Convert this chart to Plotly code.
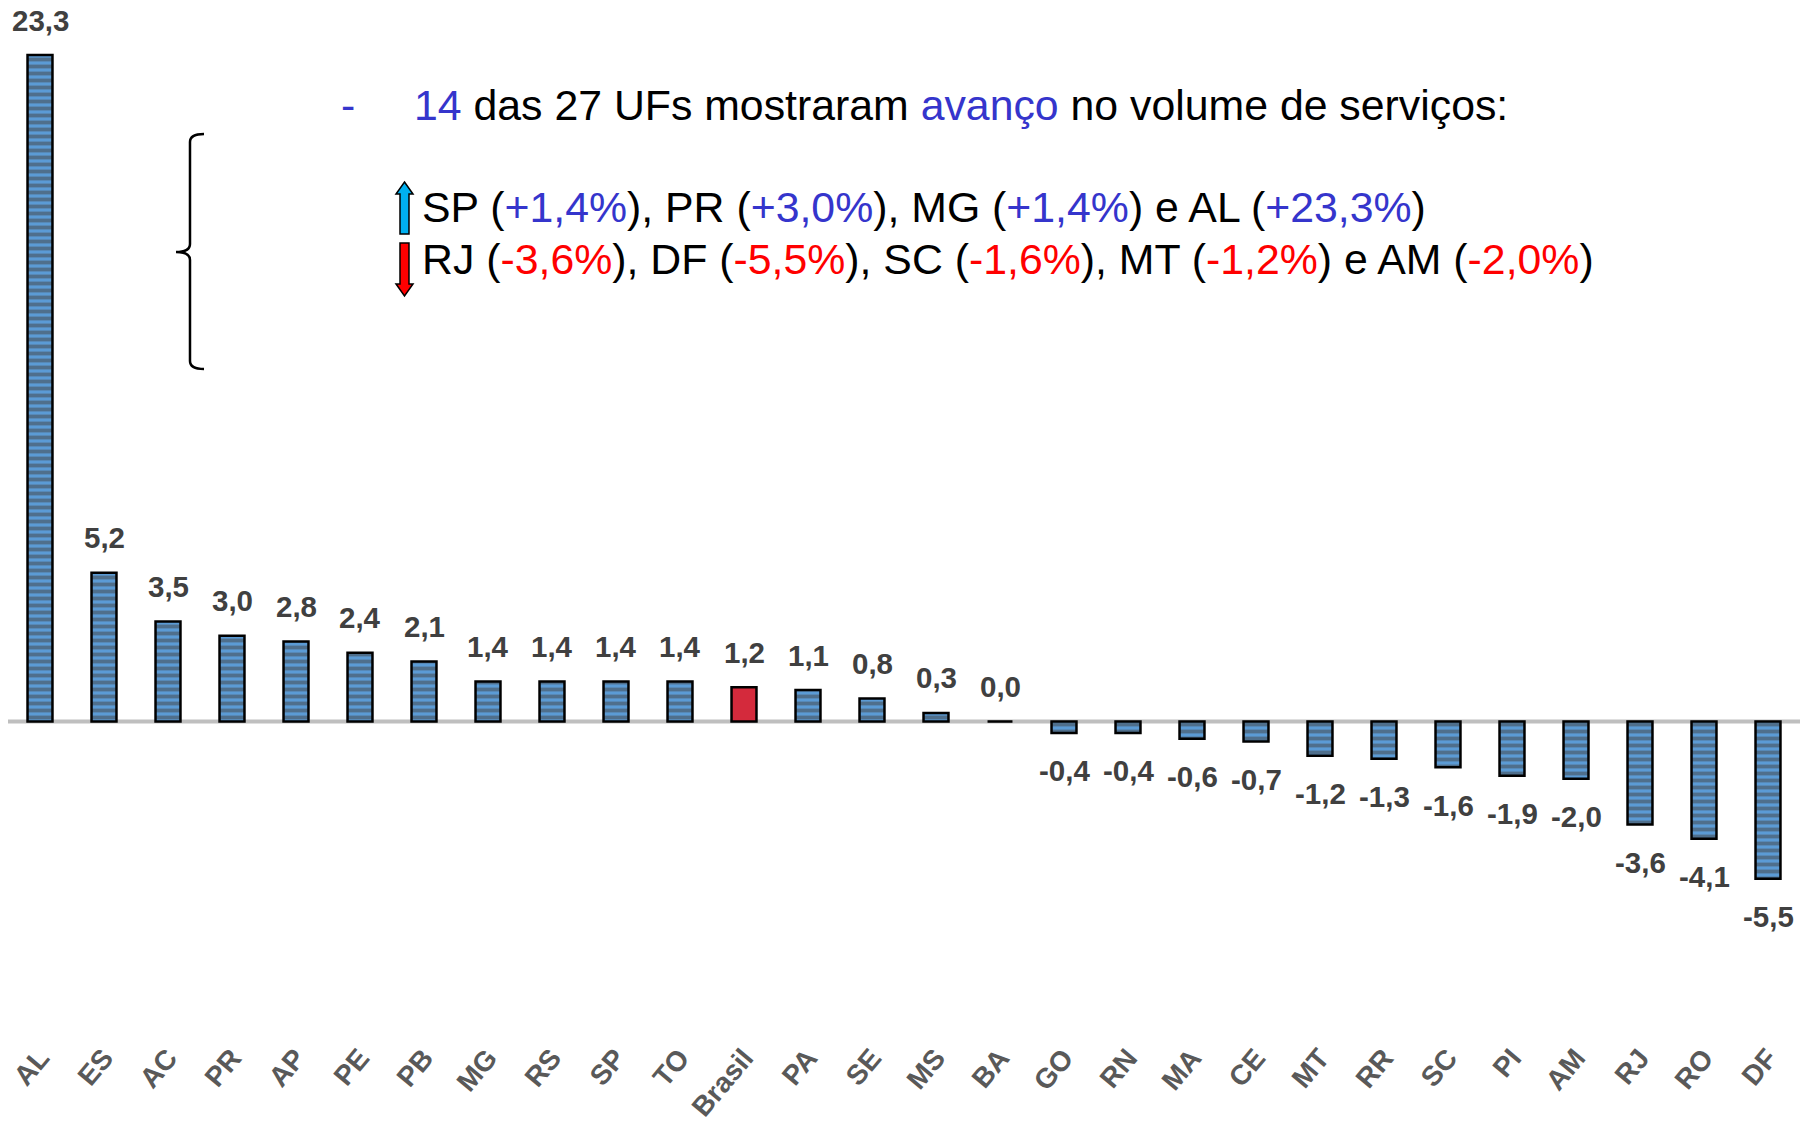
import plotly.graph_objects as go

# Variação do volume de serviços por UF (%)
ufs = ["AL", "ES", "AC", "PR", "AP", "PE", "PB", "MG", "RS", "SP", "TO", "Brasil",
       "PA", "SE", "MS", "BA", "GO", "RN", "MA", "CE", "MT", "RR", "SC", "PI",
       "AM", "RJ", "RO", "DF"]
variacao = [23.3, 5.2, 3.5, 3.0, 2.8, 2.4, 2.1, 1.4, 1.4, 1.4, 1.4, 1.2,
            1.1, 0.8, 0.3, 0.0, -0.4, -0.4, -0.6, -0.7, -1.2, -1.3, -1.6, -1.9,
            -2.0, -3.6, -4.1, -5.5]
destaque = "Brasil"

# Page geometry (pixels)
FIG_W, FIG_H = 1804, 1121
M_L, M_R, M_T, M_B = 8, 4, 0, 86
PLOT_W = FIG_W - M_L - M_R
PLOT_H = FIG_H - M_T - M_B
ZERO_PX = 721.5          # vertical pixel of the zero line
PX_PER_UNIT = 28.6       # pixels per percentage point
Y_MAX = (ZERO_PX - M_T) / PX_PER_UNIT
Y_MIN = -(M_T + PLOT_H - ZERO_PX) / PX_PER_UNIT


def px(x):
    return (x - M_L) / PLOT_W


def py(y):
    return 1 - (y - M_T) / PLOT_H


def fmt(v):
    return f"{v:.1f}".replace(".", ",")


BLUE = "#5b9bd5"
STRIPE = "#d3e4f5"
RED_BAR = "#d42a3c"
LABEL_FONT = "Liberation Sans, Arial, sans-serif"

colors = [RED_BAR if u == destaque else BLUE for u in ufs]
shapes_pat = ["" if u == destaque else "-" for u in ufs]

fig = go.Figure()
fig.add_trace(go.Bar(
    x=ufs, y=variacao, width=0.39,
    marker=dict(
        color=colors,
        line=dict(color="#000000", width=2.5),
        pattern=dict(shape=shapes_pat, fgcolor=STRIPE, size=7, solidity=0.55),
    ),
    hoverinfo="x+y",
))

annotations = []
# value labels
for u, v in zip(ufs, variacao):
    annotations.append(dict(
        x=u, y=v, xref="x", yref="y", text=fmt(v), showarrow=False,
        xanchor="center", yanchor="middle", yshift=35 if v >= 0 else -38,
        font=dict(family=LABEL_FONT, size=29.5, color="#404040", weight="bold"),
    ))

TXT_FONT = "Liberation Sans, Arial, sans-serif"
TXT_SIZE = 42.8
BLUE_TXT = "#3535cc"
RED_TXT = "#ff0000"


def c(t, col):
    return f"<span style='color:{col}'>{t}</span>"


annotations.append(dict(
    x=px(339), y=py(105), xref="paper", yref="paper", showarrow=False,
    xanchor="left", yanchor="middle", text=c("-", BLUE_TXT),
    font=dict(family=TXT_FONT, size=TXT_SIZE, color="#000000"),
))
annotations.append(dict(
    x=px(412), y=py(105), xref="paper", yref="paper", showarrow=False,
    xanchor="left", yanchor="middle",
    text=c("14", BLUE_TXT) + " das 27 UFs mostraram " + c("avanço", BLUE_TXT)
    + " no volume de serviços:",
    font=dict(family=TXT_FONT, size=TXT_SIZE, color="#000000"),
))
annotations.append(dict(
    x=px(420), y=py(207), xref="paper", yref="paper", showarrow=False,
    xanchor="left", yanchor="middle",
    text="SP (" + c("+1,4%", BLUE_TXT) + "), PR (" + c("+3,0%", BLUE_TXT)
    + "), MG (" + c("+1,4%", BLUE_TXT) + ") e AL (" + c("+23,3%", BLUE_TXT) + ")",
    font=dict(family=TXT_FONT, size=TXT_SIZE, color="#000000"),
))
annotations.append(dict(
    x=px(420), y=py(259), xref="paper", yref="paper", showarrow=False,
    xanchor="left", yanchor="middle",
    text="RJ (" + c("-3,6%", RED_TXT) + "), DF (" + c("-5,5%", RED_TXT)
    + "), SC (" + c("-1,6%", RED_TXT) + "), MT (" + c("-1,2%", RED_TXT)
    + ") e AM (" + c("-2,0%", RED_TXT) + ")",
    font=dict(family=TXT_FONT, size=TXT_SIZE, color="#000000"),
))


def path(points, close=True):
    s = "M " + " L ".join(f"{px(x):.5f},{py(y):.5f}" for x, y in points)
    return s + (" Z" if close else "")


# up / down arrows next to the text lines
up_arrow = [(404.5, 182), (413, 194), (409, 194), (409, 234), (400, 234),
            (400, 194), (396, 194)]
down_arrow = [(400, 243), (409, 243), (409, 284), (413, 284), (404.5, 296),
              (396, 284), (400, 284)]


# curly bracket
def q(a, b):
    return f"{px(a):.5f},{py(b):.5f}"


brace = (f"M {q(204,134)} Q {q(190,134)} {q(190,142)} L {q(190,244)} "
         f"Q {q(190,252)} {q(176,252)} Q {q(190,252)} {q(190,260)} "
         f"L {q(190,361)} Q {q(190,369)} {q(204,369)}")

shapes = [
    dict(type="line", xref="paper", yref="y", x0=0, x1=1, y0=0, y1=0,
         line=dict(color="#bfbfbf", width=4), layer="below"),
    dict(type="path", xref="paper", yref="paper", path=path(up_arrow),
         fillcolor="#00b0f0", line=dict(color="#000000", width=1.5)),
    dict(type="path", xref="paper", yref="paper", path=path(down_arrow),
         fillcolor="#ff0000", line=dict(color="#000000", width=1.5)),
    dict(type="path", xref="paper", yref="paper", path=brace,
         line=dict(color="#000000", width=2.5)),
]

fig.update_layout(
    width=FIG_W, height=FIG_H,
    margin=dict(l=M_L, r=M_R, t=M_T, b=M_B, autoexpand=False),
    paper_bgcolor="#ffffff", plot_bgcolor="#ffffff",
    showlegend=False,
    annotations=annotations,
    shapes=shapes,
    bargap=0.6,
    xaxis=dict(
        type="category", range=[-0.5, len(ufs) - 0.5],
        showgrid=False, showline=False, zeroline=False, ticks="",
        tickangle=-50, automargin=False,
        tickfont=dict(family=LABEL_FONT, size=28, color="#595959", weight="bold"),
    ),
    yaxis=dict(
        range=[Y_MIN, Y_MAX], showgrid=False, showline=False, zeroline=False,
        showticklabels=False, ticks="", automargin=False,
    ),
)

fig.write_html("out.html")
